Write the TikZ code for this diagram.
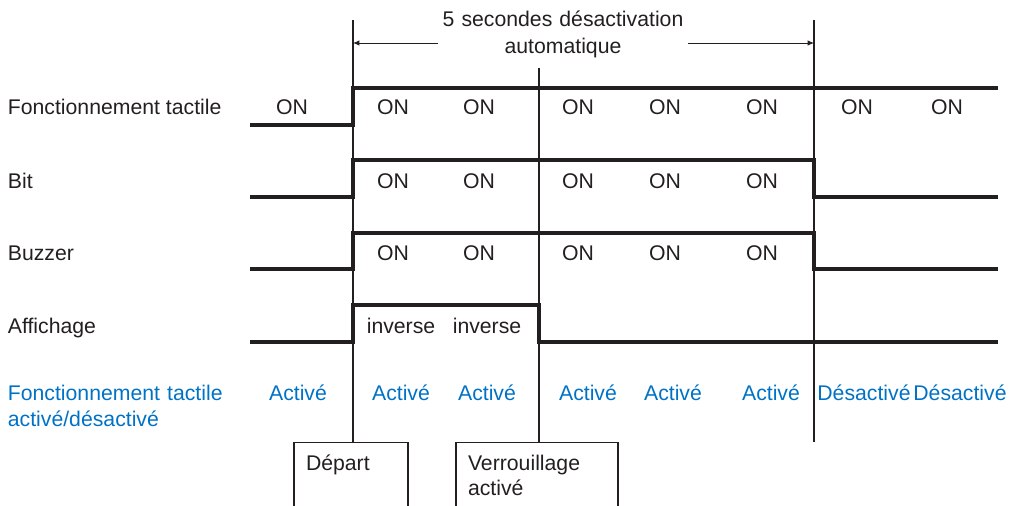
\documentclass[tikz,border=0pt]{standalone}
\usepackage{fontspec}
\setmainfont{Liberation Sans}
\usetikzlibrary{arrows.meta}
\definecolor{ink}{RGB}{35,31,32}
\definecolor{stateblue}{RGB}{0,114,198}

\begin{document}
\begin{tikzpicture}[x=2.5cm,y=-2.5cm,
		txt/.style={anchor=base,inner sep=0,text=ink,font=\fontsize{15.1}{19.2}\selectfont},
		state/.style={txt,text=stateblue},
		signal/.style={draw=ink,line width=2.8pt},
		marker/.style={draw=ink,line width=0.85pt},
		dim/.style={draw=ink,line width=0.6pt,-{Latex[length=4.5pt,width=3.8pt]}},
		box/.style={draw=ink,line width=0.85pt,anchor=north,align=left,inner sep=0.3cm,
			text height=0.4cm,text depth=2cm,text=ink,font=\fontsize{15.1}{17.8}\selectfont}]
		\useasboundingbox (0,0) rectangle (10.10,5.06);
		\clip (0,0) rectangle (10.10,5.06);
		% time marks
		\coordinate (t0) at (3.53,0.20);
		\coordinate (t1) at (5.39,0.68);
		\coordinate (t2) at (8.14,0.20);
		\coordinate (arr) at (0,0.43);
		\node (depart) [box,text width=2.25cm] at (3.51,4.42) {Départ};
		\node (lock) [box,text width=3.45cm] at (5.37,4.42) {Verrouillage\\activé};
		\draw [marker] (t0) -- (t0 |- depart.north);
		\draw [marker] (t1) -- (t1 |- lock.north);
		\draw [marker] (t2) -- (t2 |- 0,4.42);
		\node (title) [txt,text width=6.25cm,align=center] at (5.63,0.27) {5 secondes désactivation\\automatique};
		\draw [dim] (title.west |- arr) -- (t0 |- arr);
		\draw [dim] (title.east |- arr) -- (t2 |- arr);
		% signals
		\draw [signal] (2.50,1.25) -- (3.53,1.25) -- (3.53,0.88) -- (9.98,0.88);
		\draw [signal] (2.50,1.97) -- (3.53,1.97) -- (3.53,1.60) -- (8.14,1.60) -- (8.14,1.97) -- (9.98,1.97);
		\draw [signal] (2.50,2.69) -- (3.53,2.69) -- (3.53,2.33) -- (8.14,2.33) -- (8.14,2.69) -- (9.98,2.69);
		\draw [signal] (2.50,3.42) -- (3.53,3.42) -- (3.53,3.05) -- (5.39,3.05) -- (5.39,3.42) -- (9.98,3.42);
		% row names
		\node (ntouch) [txt,anchor=base west] at (0.076,1.150) {Fonctionnement tactile};
		\node (nbit) [txt,anchor=base west] at (0.076,1.890) {Bit};
		\node (nbuz) [txt,anchor=base west] at (0.076,2.600) {Buzzer};
		\node (ndisp) [txt,anchor=base west] at (0.076,3.335) {Affichage};
		\node (nstate) [state,anchor=base west,text width=5.5cm,align=left] at (0.076,4.00) {Fonctionnement tactile\\activé/désactivé};
		% row contents
		\node (touch0) [txt] at (2.92,1.15) {ON};
		\foreach \x [count=\i] in {3.93,4.79,5.78,6.65,7.62,8.57,9.47}
			\node (touch\i) [txt] at (\x,1.15) {ON};
		\foreach \y/\r in {1.89/bit,2.60/buz}
			\foreach \x [count=\i] in {3.93,4.79,5.78,6.65,7.62}
				\node (\r\i) [txt] at (\x,\y) {ON};
		\node (inv1) [txt] at (4.01,3.335) {inverse};
		\node (inv2) [txt] at (4.87,3.335) {inverse};
		\foreach \x [count=\i] in {2.98,4.01,4.87,5.88,6.73,7.71}
			\node (act\i) [state] at (\x,4.00) {Activé};
		\node (off1) [state] at (8.64,4.00) {Désactivé};
		\node (off2) [state] at (9.60,4.00) {Désactivé};
\end{tikzpicture}
\end{document}
